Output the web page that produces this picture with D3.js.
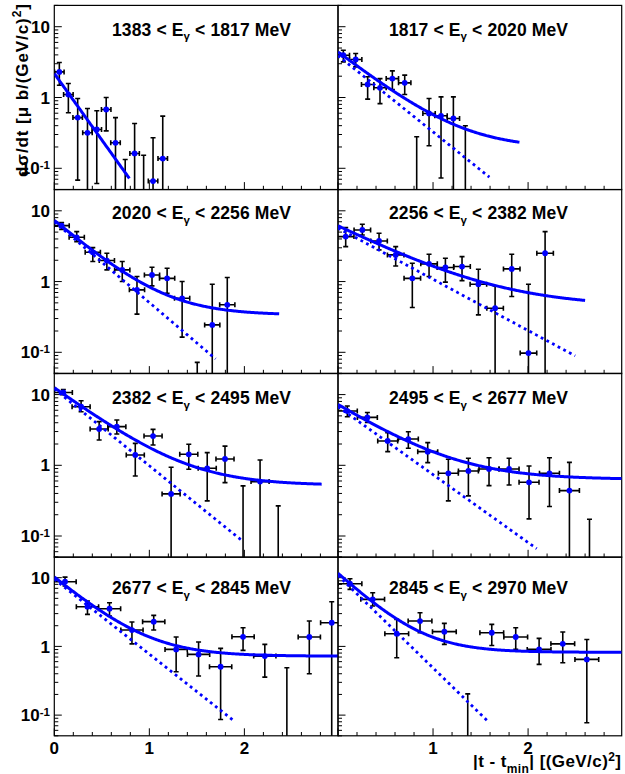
<!DOCTYPE html>
<html><head><meta charset="utf-8">
<script src="https://cdn.jsdelivr.net/npm/d3@7"></script>
<style>
body{margin:0;background:#fff}
text{font-family:"Liberation Sans",Arial,Helvetica,sans-serif;font-weight:bold;fill:#000}
</style>
</head><body>
<svg id="c" width="625" height="774"></svg>
<script>
// ---------- data ----------
const binLow  = ["1383","1817","2020","2256","2382","2495","2677","2845"];
const binHigh = ["1817","2020","2256","2382","2495","2677","2845","2970"];

// |t - tmin| bin centres, dσ/dt values, upper and lower error ends (0 = below axis)
const t0 = [0.053,0.148,0.246,0.349,0.447,0.546,0.644,0.746,0.845,0.940,1.039,1.141];
const v0 = [2.30,1.10,0.52,0.317,0.353,0.677,0.229,0,0.162,0,0.066,0.137];
const h0 = [3.12,1.58,0.97,0.70,0.65,1.0,0.52,0.133,0.43,0.153,0.27,0.545];
const l0 = [1.49,0.61,0.068,0,0.061,0.338,0,0,0,0,0,0];

const t1 = [0.056,0.186,0.312,0.442,0.572,0.702,0.828,0.958,1.084,1.214,1.340];
const v1 = [3.96,3.44,1.53,1.37,1.85,1.61,0,0.595,0.551,0.505,0];
const h1 = [4.66,4.18,1.96,1.85,2.38,2.07,0.279,0.97,1.02,1.02,0.398];
const l1 = [3.19,2.71,0.947,0.82,1.30,1.10,0,0.208,0.073,0,0];

const t2 = [0.077,0.236,0.405,0.553,0.715,0.870,1.028,1.187,1.345,1.504,1.662,1.820];
const v2 = [6.17,4.22,2.59,1.98,1.46,0.763,1.24,1.11,0.58,0,0.244,0.469];
const h2 = [6.8,5.08,3.02,2.51,1.92,1.18,1.59,1.54,1.0,0.072,0.917,1.14];
const l2 = [5.47,3.67,1.92,1.46,1.0,0.346,0.87,0.685,0.164,0,0,0];

const t3 = [0.081,0.256,0.432,0.607,0.782,0.958,1.130,1.305,1.477,1.653,1.828,2.004,2.179];
const v3 = [4.32,5.36,3.75,2.38,1.11,1.78,1.58,1.63,0.917,0.42,1.51,0.0974,2.51];
const h3 = [5.79,6.44,4.81,3.12,1.81,2.43,2.13,2.25,1.49,0.87,2.43,0.917,5.08];
const l3 = [3.12,4.56,2.80,1.66,0.43,1.18,0.98,1.03,0.338,0,0.614,0,0];

const t4 = [0.095,0.282,0.472,0.658,0.852,1.039,1.229,1.415,1.609,1.796,1.986,2.165,2.356];
const v4 = [10.7,6.73,3.26,3.52,1.40,2.59,0.394,1.43,0.907,1.23,0,0.588,0];
const h4 = [11.8,8.18,4.14,4.37,2.04,3.22,0.937,1.98,1.51,1.87,0.511,1.19,0.267];
const l4 = [10.0,5.72,2.28,2.77,0.707,1.94,0,0.878,0.314,0.569,0,0,0];

const t5 = [0.098,0.309,0.523,0.740,0.944,1.161,1.372,1.589,1.800,2.010,2.225,2.435,2.646];
const v5 = [5.85,4.76,2.21,2.35,1.56,0.771,0.832,0.888,0.888,0.575,0.771,0.439,0];
const h5 = [6.88,5.58,2.89,2.98,2.09,1.22,1.26,1.28,1.26,0.978,1.28,1.10,0.173];
const l5 = [4.86,4.05,1.56,1.74,1.09,0.314,0.369,0.516,0.527,0.175,0.261,0,0];

const t6 = [0.113,0.349,0.581,0.817,1.046,1.282,1.518,1.750,1.986,2.215,2.447,2.683,2.919];
const v6 = [8.74,3.78,3.54,1.73,2.29,0.904,0.765,0.506,1.38,0.723,0,1.37,2.21];
const h6 = [10.2,4.57,4.32,2.26,2.83,1.37,1.16,0.935,1.87,1.07,0.489,2.34,4.47];
const l6 = [7.56,2.92,2.76,1.09,1.73,0.428,0.370,0.0865,0.874,0.357,0,0.40,0];

const t7 = [0.126,0.365,0.618,0.863,1.119,1.365,1.618,1.870,2.116,2.365,2.618];
const v7 = [8.18,4.84,1.53,2.34,1.64,0,1.58,1.37,0.904,1.09,0.647];
const h7 = [9.67,6.05,2.47,3.09,2.16,0.204,2.09,1.87,1.31,1.62,1.26];
const l7 = [6.76,3.87,0.684,1.58,1.07,0,1.03,0.904,0.547,0.578,0.0773];

const tHalfWidth = [0.05,0.065,0.08,0.087,0.095,0.105,0.117,0.125];

// fit curves: solid = A exp(-b t) + C ; dotted = A exp(-b t)
const solidA   = [2.18,4.22,7.0,5.7,12.0,6.63,9.5,10.8];
const solidB   = [4.32,2.40,2.63,1.55,2.25,1.97,2.68,3.0];
const solidC   = [0,0.19,0.336,0.44,0.52,0.63,0.72,0.82];
const solidEnd = [0.79,1.909,2.366,2.6,2.813,2.985,2.985,2.985];
const dotA     = [null,3.9,7.0,5.7,12.0,6.73,9.5,10.8];
const dotB     = [null,2.48,2.63,1.667,2.5,2.21,2.51,3.10];
const dotEnd   = [null,1.593,1.697,2.495,1.986,2.091,1.891,1.593];

const yTickVals = [0.1,1,10];
const xTickLabelsLeft  = [0,1,2];
const xTickLabelsRight = [1,2];

// ---------- layout ----------
const T = [t0,t1,t2,t3,t4,t5,t6,t7], V=[v0,v1,v2,v3,v4,v5,v6,v7],
      H=[h0,h1,h2,h3,h4,h5,h6,h7], L=[l0,l1,l2,l3,l4,l5,l6,l7];
const cols = [{x0:54.3,x1:338},{x0:338,x1:621.7}];
const rows = [{y0:5.4,y1:189.6},{y0:189.5,y1:373.6},{y0:373.3,y1:557.3},{y0:557,y1:735.8}];
const titleX = [112,389];
const titleY = [35.7,219.3,404.3,594];
const yMin=0.05, yMax=20, xMax=2.985;

const svg = d3.select("#c");
const defs = svg.append("defs");
const blue="#0000ff";

for(let i=0;i<8;i++){
  const r=Math.floor(i/2), c=i%2;
  const C=cols[c], R=rows[r];
  const x=d3.scaleLinear().domain([0,xMax]).range([C.x0,C.x1]);
  const y=d3.scaleLog().domain([yMin,yMax]).range([R.y1,R.y0]);
  const g=svg.append("g");
  defs.append("clipPath").attr("id","cp"+i).append("rect")
    .attr("x",C.x0).attr("y",R.y0).attr("width",C.x1-C.x0).attr("height",R.y1-R.y0);

  // frame
  g.append("rect").attr("x",C.x0).attr("y",R.y0).attr("width",C.x1-C.x0).attr("height",R.y1-R.y0)
    .attr("fill","none").attr("stroke","#000").attr("stroke-width",1.2);

  // y ticks
  const yMinor=[];
  [0.01,0.1,1,10].forEach(d=>{for(let k=2;k<=9;k++){const v=d*k;if(v>=yMin&&v<=yMax)yMinor.push(v);}});
  yMinor.forEach(v=>g.append("line").attr("x1",C.x0).attr("x2",C.x0+4).attr("y1",y(v)).attr("y2",y(v)).attr("stroke","#000").attr("stroke-width",1));
  yTickVals.forEach(v=>g.append("line").attr("x1",C.x0).attr("x2",C.x0+7.5).attr("y1",y(v)).attr("y2",y(v)).attr("stroke","#000").attr("stroke-width",1));
  // x ticks
  d3.range(0,3,0.2).forEach(v=>{
    if(x(v)>C.x1-0.5) return;
    const major=Math.abs(v-Math.round(v))<1e-6;
    g.append("line").attr("x1",x(v)).attr("x2",x(v)).attr("y1",R.y1).attr("y2",R.y1-(major?7.5:3.8)).attr("stroke","#000").attr("stroke-width",1);
  });

  // y tick labels
  if(c===0){
    yTickVals.forEach(v=>{
      const t=g.append("text").attr("x",50).attr("y",y(v)).attr("dy","0.36em").attr("text-anchor","end").style("font-size","17px");
      if(v===0.1){ t.append("tspan").text("10"); t.append("tspan").attr("dy","-0.45em").style("font-size","11.5px").text("-1"); }
      else t.text(String(v));
    });
  }
  // x tick labels (bottom row)
  if(r===3){
    (c===0?xTickLabelsLeft:xTickLabelsRight).forEach(v=>{
      g.append("text").attr("x",x(v)).attr("y",753.5).attr("text-anchor","middle").style("font-size","17px").text(v);
    });
  }

  const pg=svg.append("g").attr("clip-path","url(#cp"+i+")");
  // error bars
  const cap=2.5, xe=tHalfWidth[i];
  T[i].forEach((tv,j)=>{
    const val=V[i][j], hi=H[i][j], lo=L[i][j];
    const xp=x(tv);
    const yTop=y(Math.min(hi,yMax*2)), yBot=lo>0?y(lo):R.y1+5;
    pg.append("line").attr("x1",xp).attr("x2",xp).attr("y1",yTop).attr("y2",yBot).attr("stroke","#000").attr("stroke-width",1.6);
    pg.append("line").attr("x1",xp-cap).attr("x2",xp+cap).attr("y1",yTop).attr("y2",yTop).attr("stroke","#000").attr("stroke-width",1.6);
    if(lo>0) pg.append("line").attr("x1",xp-cap).attr("x2",xp+cap).attr("y1",yBot).attr("y2",yBot).attr("stroke","#000").attr("stroke-width",1.6);
    if(val>0){
      const yp=y(val);
      pg.append("line").attr("x1",x(tv-xe)).attr("x2",x(tv+xe)).attr("y1",yp).attr("y2",yp).attr("stroke","#000").attr("stroke-width",1.6);
      [x(tv-xe),x(tv+xe)].forEach(xx=>pg.append("line").attr("x1",xx).attr("x2",xx).attr("y1",yp-cap).attr("y2",yp+cap).attr("stroke","#000").attr("stroke-width",1.6));
    }
  });
  // markers
  T[i].forEach((tv,j)=>{
    const val=V[i][j];
    if(val>0) pg.append("circle").attr("cx",x(tv)).attr("cy",y(val)).attr("r",2.9).attr("fill",blue);
  });
  // fit curves
  const line=d3.line().x(d=>x(d[0])).y(d=>y(d[1]));
  if(dotA[i]!==null){
    const pts=d3.range(0,dotEnd[i],0.01).concat([dotEnd[i]]).map(t=>[t,dotA[i]*Math.exp(-dotB[i]*t)]);
    pg.append("path").attr("d",line(pts)).attr("fill","none").attr("stroke",blue).attr("stroke-width",2.8).attr("stroke-dasharray","2.8,3.6");
  }
  const sp=d3.range(0,solidEnd[i],0.01).concat([solidEnd[i]]).map(t=>[t,solidA[i]*Math.exp(-solidB[i]*t)+solidC[i]]);
  pg.append("path").attr("d",line(sp)).attr("fill","none").attr("stroke",blue).attr("stroke-width",3);

  // panel title
  const tt=svg.append("text").attr("x",titleX[c]).attr("y",titleY[r]).style("font-size","17.5px")
    .attr("textLength",179).attr("lengthAdjust","spacing");
  tt.append("tspan").text(binLow[i]+" < E");
  tt.append("tspan").attr("dy",4.5).style("font-size","11.5px").text("γ");
  tt.append("tspan").attr("dy",-4.5).text(" < "+binHigh[i]+" MeV");
}

// axis titles
const yt=svg.append("text").attr("transform","translate(27.5,4) rotate(-90)").attr("text-anchor","end")
  .style("font-size","17px").attr("textLength",173).attr("lengthAdjust","spacing");
yt.append("tspan").text("dσ/dt [μ b/(GeV/c)");
yt.append("tspan").attr("dy",-6.5).style("font-size","12px").text("2");
yt.append("tspan").attr("dy",6.5).text("]");

const xt=svg.append("text").attr("x",621).attr("y",767).attr("text-anchor","end")
  .style("font-size","17px").attr("textLength",148).attr("lengthAdjust","spacing");
xt.append("tspan").text("|t - t");
xt.append("tspan").attr("dy",5.5).style("font-size","12px").text("min");
xt.append("tspan").attr("dy",-5.5).text("| [(GeV/c)");
xt.append("tspan").attr("dy",-6.5).style("font-size","12px").text("2");
xt.append("tspan").attr("dy",6.5).text("]");
</script>
</body></html>
